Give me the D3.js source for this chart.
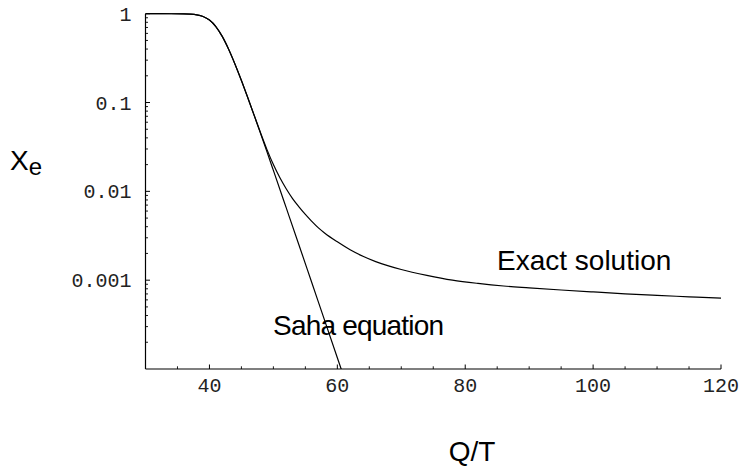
<!DOCTYPE html>
<html>
<head>
<meta charset="utf-8">
<script src="https://cdn.jsdelivr.net/npm/d3@7"></script>
<style>
  html, body { margin: 0; padding: 0; background: #fff; }
  svg { display: block; }
</style>
</head>
<body>
<svg id="chart" width="742" height="468"></svg>
<script>
// ---- data ----
const sahaQT = [30, 32, 34, 36, 37, 38, 39, 40, 41, 42, 43, 44, 45, 46, 47, 48, 49, 50, 52, 54, 56, 58, 60, 61];
const sahaXe = [0.99999, 0.9999, 0.99933, 0.9955, 0.9886, 0.9708, 0.9304, 0.848, 0.717, 0.555, 0.398, 0.270,
                0.177, 0.113, 0.0715, 0.0447, 0.0278, 0.0172, 0.00655, 0.00249, 0.00094, 0.000355, 0.000134, 0.0000823];

const exactQT = [30, 32, 34, 36, 37, 38, 39, 40, 41, 42, 43, 44, 45, 46, 47, 48, 49, 50, 51, 52, 53, 54, 55, 56, 57, 58,
                 60, 62, 64, 66, 68, 70, 74, 78, 82, 86, 90, 95, 100, 105, 110, 115, 120];
const exactXe = [0.99999, 0.9999, 0.99933, 0.9955, 0.9886, 0.9708, 0.9304, 0.848, 0.717, 0.555, 0.398, 0.270,
                 0.177, 0.113, 0.0717, 0.0455, 0.0295, 0.0200, 0.0143, 0.0107, 0.0083, 0.0067, 0.0055, 0.0046, 0.0039, 0.0034,
                 0.0027, 0.0022, 0.00186, 0.00162, 0.00145, 0.00132, 0.001135, 0.001002, 0.00092, 0.00086, 0.00082,
                 0.000775, 0.000737, 0.000702, 0.000674, 0.00065, 0.000628];

const xMajorTicks = [40, 60, 80, 100, 120];
const xMinorTicks = [35, 45, 50, 55, 65, 70, 75, 85, 90, 95, 105, 110, 115];
const yMajorTicks = [1, 0.1, 0.01, 0.001];
const yTickLabels = ["1", "0.1", "0.01", "0.001"];

(function () {
// ---- layout ----
const svg = d3.select("#chart");
const padL = 145.5, padR = 721, padT = 13.7, padB = 369;

const x = d3.scaleLinear().domain([30, 120]).range([padL, padR]);
const y = d3.scaleLog().domain([1e-4, 1]).range([padB, padT]);

svg.append("rect").attr("width", 742).attr("height", 468).attr("fill", "#fff");

svg.append("defs").append("clipPath").attr("id", "plotclip")
  .append("rect").attr("x", padL).attr("y", 0).attr("width", padR - padL + 2).attr("height", padB);

// ---- axes ----
const gx = svg.append("g").attr("transform", `translate(0,${padB})`);
gx.append("line").attr("x1", padL).attr("x2", padR).attr("stroke", "#000").attr("stroke-width", 1.2);
gx.selectAll("line.minor").data(xMinorTicks).join("line").attr("class", "minor")
  .attr("x1", d => x(d)).attr("x2", d => x(d)).attr("y1", 0).attr("y2", -2.7)
  .attr("stroke", "#000").attr("stroke-width", 0.9);
gx.selectAll("line.major").data(xMajorTicks).join("line").attr("class", "major")
  .attr("x1", d => x(d)).attr("x2", d => x(d)).attr("y1", 0).attr("y2", -4.5)
  .attr("stroke", "#000").attr("stroke-width", 1);
gx.selectAll("text").data(xMajorTicks).join("text")
  .attr("x", d => x(d)).attr("y", 23)
  .attr("text-anchor", "middle")
  .attr("font-family", "'Liberation Mono', 'DejaVu Sans Mono', monospace")
  .attr("font-size", 20).attr("fill", "#222")
  .text(d => d);

const gy = svg.append("g").attr("transform", `translate(${padL},0)`);
gy.append("line").attr("y1", padT).attr("y2", padB).attr("stroke", "#000").attr("stroke-width", 1.2);
const yMinor = [];
for (let e = -4; e < 0; e++) for (let m = 2; m <= 9; m++) yMinor.push(m * Math.pow(10, e));
gy.selectAll("line.minor").data(yMinor).join("line").attr("class", "minor")
  .attr("y1", d => y(d)).attr("y2", d => y(d)).attr("x1", 0).attr("x2", 2.5)
  .attr("stroke", "#000").attr("stroke-width", 0.9);
gy.selectAll("line.major").data(yMajorTicks).join("line").attr("class", "major")
  .attr("y1", d => y(d)).attr("y2", d => y(d)).attr("x1", 0).attr("x2", 4.5)
  .attr("stroke", "#000").attr("stroke-width", 1);
gy.selectAll("text").data(yMajorTicks).join("text")
  .attr("x", -14).attr("y", d => y(d)).attr("dy", "0.35em")
  .attr("text-anchor", "end")
  .attr("font-family", "'Liberation Mono', 'DejaVu Sans Mono', monospace")
  .attr("font-size", 20).attr("fill", "#222")
  .text((d, i) => yTickLabels[i]);

// ---- curves ----
const line = d3.line().x(d => x(d[0])).y(d => y(d[1])).curve(d3.curveMonotoneX);
const plot = svg.append("g").attr("clip-path", "url(#plotclip)");
plot.append("path").datum(sahaQT.map((q, i) => [q, sahaXe[i]]))
  .attr("d", line).attr("fill", "none").attr("stroke", "#000").attr("stroke-width", 1.2);
plot.append("path").datum(exactQT.map((q, i) => [q, exactXe[i]]))
  .attr("d", line).attr("fill", "none").attr("stroke", "#000").attr("stroke-width", 1.2);

// ---- labels ----
const sans = "'Liberation Sans', Arial, Helvetica, sans-serif";
svg.append("text").attr("x", 497).attr("y", 270).attr("font-family", sans).attr("font-size", 28)
  .attr("fill", "#000").text("Exact solution");
svg.append("text").attr("x", 273).attr("y", 335).attr("font-family", sans).attr("font-size", 28)
  .attr("letter-spacing", -0.8).attr("fill", "#000").text("Saha equation");
svg.append("text").attr("x", 472).attr("y", 461).attr("text-anchor", "middle")
  .attr("font-family", sans).attr("font-size", 28).attr("fill", "#000").text("Q/T");
const yl = svg.append("text").attr("x", 10).attr("y", 170).attr("font-family", sans).attr("font-size", 28).attr("fill", "#000");
yl.append("tspan").text("X");
yl.append("tspan").attr("dx", 0).attr("dy", 5).attr("font-size", 24).text("e");
})();
</script>
</body>
</html>
